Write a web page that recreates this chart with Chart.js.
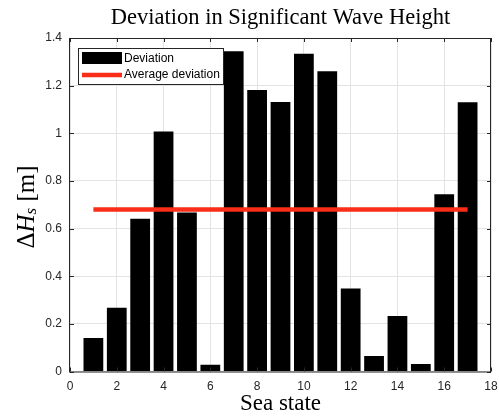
<!DOCTYPE html>
<html>
<head>
<meta charset="utf-8">
<script src="https://cdn.jsdelivr.net/npm/chart.js@4/dist/chart.umd.min.js"></script>
<style>
  html, body { margin: 0; padding: 0; background: #fff; }
  #wrap { width: 499px; height: 416px; }
</style>
</head>
<body>
<div id="wrap"><canvas id="chart" width="499" height="416"></canvas></div>
<script>
// data
const seaStates = [1, 2, 3, 4, 5, 6, 7, 8, 9, 10, 11, 12, 13, 14, 15, 16, 17];
const deviation = [0.141, 0.268, 0.641, 1.007, 0.667, 0.028, 1.344, 1.182, 1.131, 1.334, 1.260, 0.348, 0.065, 0.233, 0.031, 0.744, 1.130];
const avgDeviation = 0.68;
const avgSpan = [1, 17];
const xTicks = [0, 2, 4, 6, 8, 10, 12, 14, 16, 18];
const yTicks = [0, 0.2, 0.4, 0.6, 0.8, 1, 1.2, 1.4];

const AXIS = "#262626";
const GRID = "#e3e3e3";
const RED = "rgb(250,45,25)";
const SANS = "'Liberation Sans', Arial, sans-serif";
const SERIF = "'Liberation Serif', 'DejaVu Serif', serif";

// title, axis labels, frame with inner ticks, legend box
const decorPlugin = {
  id: "decor",
  afterDraw(chart) {
    const { ctx, chartArea: a, scales } = chart;
    ctx.save();

    // frame + inward ticks (matlab box on)
    ctx.strokeStyle = AXIS;
    ctx.lineWidth = 1;
    ctx.strokeRect(a.left - 0.5, a.top + 0.5, a.right - a.left, a.bottom - a.top);
    ctx.beginPath();
    xTicks.forEach(v => {
      const px = Math.round(scales.x.getPixelForValue(v)) + 0.5;
      ctx.moveTo(px, a.bottom); ctx.lineTo(px, a.bottom - 4);
      ctx.moveTo(px, a.top); ctx.lineTo(px, a.top + 4);
    });
    yTicks.forEach(v => {
      const py = Math.round(scales.y.getPixelForValue(v)) + 0.5;
      ctx.moveTo(a.left, py); ctx.lineTo(a.left + 4, py);
      ctx.moveTo(a.right, py); ctx.lineTo(a.right - 4, py);
    });
    ctx.stroke();

    // title
    ctx.fillStyle = "#000";
    ctx.textAlign = "center";
    ctx.textBaseline = "middle";
    ctx.font = "22.5px " + SERIF;
    ctx.fillText("Deviation in Significant Wave Height", (a.left + a.right) / 2, 18);

    // x label
    ctx.font = "23px " + SERIF;
    ctx.fillText("Sea state", (a.left + a.right) / 2, 404);

    // y label: ΔH_s [m]
    ctx.save();
    ctx.translate(27, 207);
    ctx.rotate(-Math.PI / 2);
    const parts = [
      { t: "\u0394", f: "25px " + SERIF, dy: 0 },
      { t: "H", f: "italic 25px " + SERIF, dy: 0 },
      { t: "s", f: "italic 17px " + SERIF, dy: 5 },
      { t: " [m]", f: "25px " + SERIF, dy: 0 }
    ];
    let total = 0;
    parts.forEach(p => { ctx.font = p.f; p.w = ctx.measureText(p.t).width; total += p.w; });
    let x = -total / 2;
    ctx.textAlign = "left";
    parts.forEach(p => { ctx.font = p.f; ctx.fillText(p.t, x, p.dy); x += p.w; });
    ctx.restore();

    // legend
    const lx = 78, ly = 48, lw = 145, lh = 36;
    ctx.fillStyle = "#fff";
    ctx.fillRect(lx, ly, lw, lh);
    ctx.strokeStyle = AXIS;
    ctx.strokeRect(lx + 0.5, ly + 0.5, lw, lh);
    ctx.fillStyle = "#000";
    ctx.fillRect(82, 52, 40, 12);
    ctx.strokeStyle = RED;
    ctx.lineWidth = 4.5;
    ctx.beginPath(); ctx.moveTo(82, 75); ctx.lineTo(122, 75); ctx.stroke();
    ctx.fillStyle = "#000";
    ctx.font = "12px " + SANS;
    ctx.textAlign = "left";
    ctx.fillText("Deviation", 124, 59);
    ctx.fillText("Average deviation", 124, 75);

    ctx.restore();
  }
};

new Chart(document.getElementById("chart"), {
  data: {
    datasets: [
      {
        type: "line",
        label: "Average deviation",
        data: avgSpan.map(s => ({ x: s, y: avgDeviation })),
        borderColor: RED,
        borderWidth: 4.5,
        borderCapStyle: "butt",
        pointRadius: 0,
        order: 0
      },
      {
        type: "bar",
        label: "Deviation",
        data: seaStates.map((s, i) => ({ x: s, y: deviation[i] })),
        backgroundColor: "#000",
        borderWidth: 0,
        categoryPercentage: 0.845,
        barPercentage: 1,
        order: 1
      }
    ]
  },
  options: {
    responsive: false,
    animation: false,
    layout: { padding: { top: 38, right: 8, left: 0, bottom: 0 } },
    plugins: { legend: { display: false }, tooltip: { enabled: false }, title: { display: false } },
    scales: {
      x: {
        type: "linear",
        min: 0, max: 18,
        offset: false,
        afterBuildTicks: s => { s.ticks = xTicks.map(v => ({ value: v })); },
        grid: { color: GRID, drawTicks: false, offset: false },
        border: { display: false },
        ticks: { color: AXIS, font: { family: SANS, size: 12 }, padding: 8, maxRotation: 0 },
        afterFit: s => { s.height = 44.5; s.paddingLeft = 0; s.paddingRight = 0; }
      },
      y: {
        min: 0, max: 1.4,
        afterBuildTicks: s => { s.ticks = yTicks.map(v => ({ value: v })); },
        grid: { color: GRID, drawTicks: false },
        border: { display: false },
        ticks: { color: AXIS, font: { family: SANS, size: 12 }, padding: 8, callback: v => String(v) },
        afterFit: s => { s.width = 70; s.paddingTop = 0; s.paddingBottom = 0; }
      }
    }
  },
  plugins: [decorPlugin]
});
</script>
</body>
</html>
